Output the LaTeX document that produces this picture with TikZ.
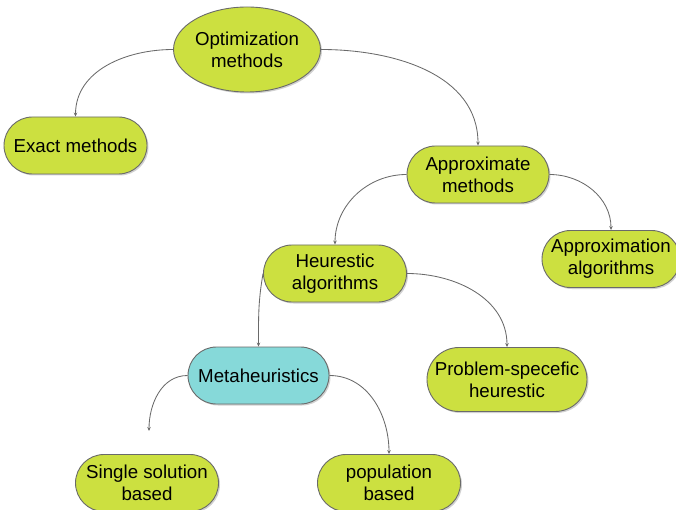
\documentclass[tikz,border=0pt]{standalone}
\usepackage{fontspec}
\setmainfont{Liberation Sans}
\usetikzlibrary{shapes.misc,shapes.geometric,arrows.meta,shadows}
\definecolor{limefill}{HTML}{CCE040}
\definecolor{metafill}{HTML}{86D9D9}
\definecolor{edgegray}{HTML}{6A6A6A}

\begin{document}
\begin{tikzpicture}[x=1pt,y=-1pt,
  box/.style={rounded rectangle, draw=edgegray, line width=0.9pt, fill=limefill,
    minimum width=143pt, minimum height=57pt, inner sep=0pt, align=center,
    font=\fontsize{18.7}{22}\selectfont,
    drop shadow={shadow xshift=1.5pt, shadow yshift=-1.5pt, opacity=0.18, fill=black}},
  link/.style={draw=edgegray, line width=0.85pt, -{Stealth[length=4pt,width=3.5pt]}}]
   \useasboundingbox (0,0) rectangle (676,510);
   \clip (0,0) rectangle (676,510);

   % top
   \node[box, ellipse, minimum width=142pt, minimum height=85pt] (opt) at (247,49.5)
      {Optimization\\methods};
   \node[box] (exact) at (75.5,145.5) {Exact methods};
   \node[box, minimum width=142pt] (approx) at (478,174.5) {Approximate\\methods};
   \node[box, minimum width=138pt] (approxalg) at (611,259) {Approximation\\algorithms};

   % heuristics
   \node[box] (heur) at (335,273.5) {Heurestic\\algorithms};
   \node[box, minimum width=160pt, minimum height=64pt] (probspec) at (507,379.5)
      {Problem-specefic\\heurestic};
   \node[box, fill=metafill, minimum width=141pt] (meta) at (258.5,375.5) {Metaheuristics};

   % bottom
   \node[box] (single) at (147,483) {Single solution\\based};
   \node[box] (popul) at (389,483) {population\\based};
   \coordinate (singletip) at (149,431);

   \draw[link] (opt.west) to[out=180,in=90] (exact.north);
   \draw[link] (opt.east) to[out=0,in=90] (approx.north);
   \draw[link] (approx.west) to[out=180,in=90] (heur.north);
   \draw[link] (approx.east) to[out=0,in=90] (approxalg.north);
   \draw[link] (heur.west) to[out=-100,in=90] (meta.north);
   \draw[link] (heur.east) to[out=0,in=90] (probspec.north);
   \draw[link] (meta.west) to[out=180,in=90] (singletip);
   \draw[link] (meta.east) to[out=0,in=90] (popul.north);

\end{tikzpicture}
\end{document}
